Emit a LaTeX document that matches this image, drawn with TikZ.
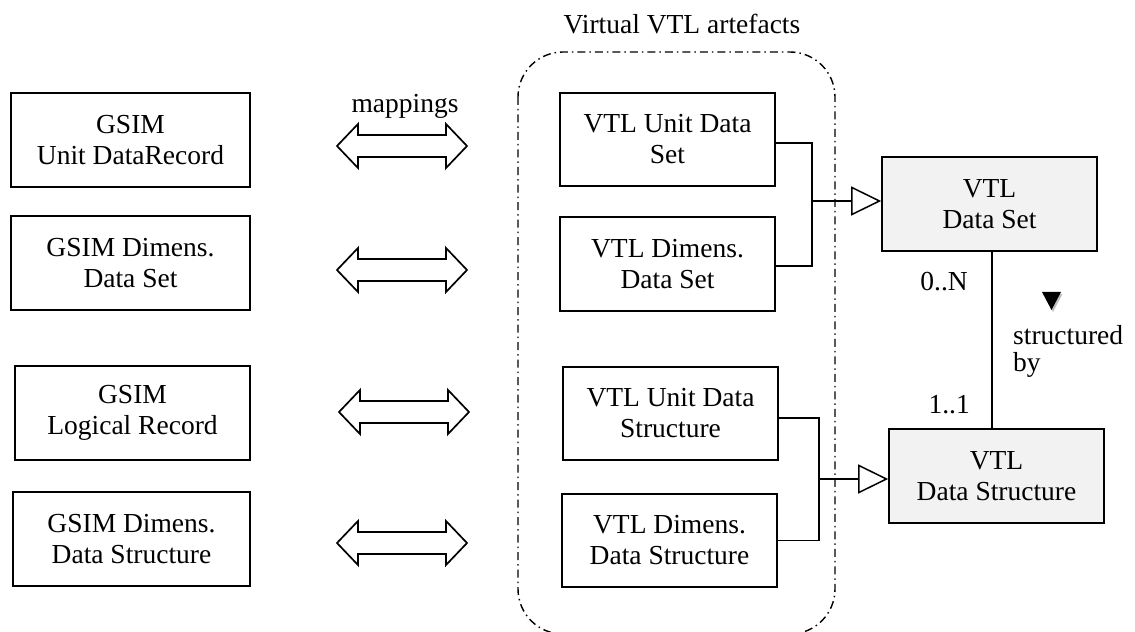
\documentclass[tikz,border=0pt]{standalone}
\usepackage{fontspec}
\setmainfont{Liberation Serif}
\usetikzlibrary{arrows.meta}
\definecolor{boxgray}{HTML}{F2F2F2}

% two-headed block arrow: #1 = left tip x, #2 = shaft length, #3 = centre y
\newcommand\mapar[3]{%
  \draw[mapping] (#1,#3) -- ++(21,-22) -- ++(0,11) -- ++(#2,0) -- ++(0,-11)
    -- ++(21,22) -- ++(-21,22) -- ++(0,-11) -- ++(-#2,0) -- ++(0,11) -- cycle;}

\begin{document}
\begin{tikzpicture}[x=1bp,y=-1bp,
  every node/.style={font=\fontsize{27.5bp}{31bp}\selectfont, inner sep=0pt},
  box/.style={draw, line width=1.7bp, align=center, minimum height=94bp},
  vtlbox/.style={box, fill=boxgray},
  mapping/.style={draw, line width=1.7bp, line join=miter, fill=white},
  link/.style={line width=1.5bp},
  gen/.style={link, -{Triangle[open, length=30bp, width=29bp, line width=1.5bp]}},
  region/.style={line width=1.4bp, dash pattern=on 8bp off 4bp on 1.5bp off 4bp,
                 rounded corners=45bp}]
\useasboundingbox (0,0) rectangle (1135,632);

% virtual artefact region
\draw[region] (518,52) rectangle (835,634);
\node[anchor=base] (title) at (682,34) {Virtual VTL artefacts};

% GSIM objects
\node[box, minimum width=239bp] (g1) at (130.5,140) {GSIM\\Unit DataRecord};
\node[box, minimum width=239bp] (g2) at (130.5,263) {GSIM Dimens.\\Data Set};
\node[box, minimum width=235bp] (g3) at (132.5,413) {GSIM\\Logical Record};
\node[box, minimum width=237bp] (g4) at (131.5,539) {GSIM Dimens.\\Data Structure};

% mappings
\node[anchor=base] (maplabel) at (405,113) {mappings};
\mapar{337}{88}{146}
\mapar{337}{88}{270}
\mapar{339}{88}{412}
\mapar{337}{88}{543}

% VTL artefacts
\node[box, minimum width=215bp, minimum height=93bp] (u1) at (667.5,139.5) {VTL Unit Data\\Set};
\node[box, minimum width=215bp] (d1) at (667.5,264) {VTL Dimens.\\Data Set};
\node[box, minimum width=215bp, minimum height=93bp] (u2) at (670.5,413.5) {VTL Unit Data\\Structure};
\node[box, minimum width=215bp, minimum height=93bp] (d2) at (669.5,540.5) {VTL Dimens.\\Data Structure};

\node[vtlbox, minimum width=215bp] (ds) at (989.5,204) {VTL\\Data Set};
\node[vtlbox, minimum width=215bp] (dst) at (996.5,476) {VTL\\Data Structure};

% generalisations
\coordinate (j1) at (812,201);
\draw[link] ([yshift=-3.5bp]u1.east) -- ([yshift=-3.5bp]u1.east -| j1)
  -- ([yshift=-2bp]d1.east -| j1) -- ([yshift=-2bp]d1.east);
\draw[gen] (j1) -- (j1 -| ds.west);

\coordinate (j2) at (819,479);
\draw[link] ([yshift=-4.5bp]u2.east) -- ([yshift=-4.5bp]u2.east -| j2)
  -- (d2.east -| j2) -- (d2.east);
\draw[gen] (j2) -- (j2 -| dst.west);

% association
\coordinate (v) at (992,0);
\draw[link] (ds.south -| v) -- (dst.north -| v);
\node[anchor=base east] (mN) at (968,291) {0..N};
\node[anchor=base east] (m1) at (970,413) {1..1};
\fill[black, opacity=0.25] (1043.5,294) -- (1062.5,294) -- (1053,312) -- cycle;
\fill (1042,292) -- (1061,292) -- (1051.5,310) -- cycle;
\node[anchor=north west, align=left, font=\fontsize{27.5bp}{27bp}\selectfont]
  (sb) at (1013,325) {structured\\by};

\end{tikzpicture}
\end{document}
